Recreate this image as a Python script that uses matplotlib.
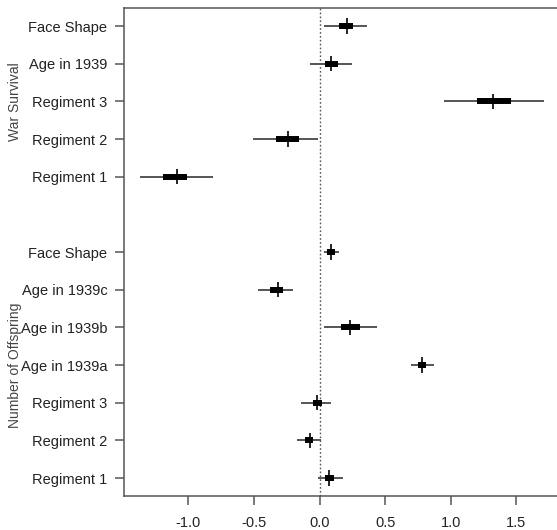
import matplotlib
matplotlib.use("Agg")
import matplotlib.pyplot as plt
import numpy as np

plt.rcParams['font.family'] = ['Liberation Sans', 'DejaVu Sans']

# Number of Offspring (bottom to top)
off_labels = ["Regiment 1", "Regiment 2", "Regiment 3", "Age in 1939a",
              "Age in 1939b", "Age in 1939c", "Face Shape"]
off_med = [0.07, -0.07, -0.02, 0.78, 0.23, -0.32, 0.09]
off_lo95 = [-0.01, -0.17, -0.14, 0.70, 0.03, -0.47, 0.03]
off_hi95 = [0.18, 0.01, 0.09, 0.87, 0.44, -0.20, 0.15]
off_lo50 = [0.04, -0.11, -0.05, 0.75, 0.16, -0.38, 0.06]
off_hi50 = [0.11, -0.05, 0.02, 0.81, 0.31, -0.28, 0.12]

# War Survival (bottom to top)
war_labels = ["Regiment 1", "Regiment 2", "Regiment 3", "Age in 1939", "Face Shape"]
war_med = [-1.09, -0.24, 1.32, 0.09, 0.21]
war_lo95 = [-1.37, -0.51, 0.95, -0.07, 0.03]
war_hi95 = [-0.81, -0.01, 1.71, 0.25, 0.36]
war_lo50 = [-1.19, -0.33, 1.20, 0.04, 0.145]
war_hi50 = [-1.01, -0.16, 1.46, 0.14, 0.255]

group_names = ["Number of Offspring", "War Survival"]
xticks = [-1.0, -0.5, 0.0, 0.5, 1.0, 1.5]

labels = off_labels + war_labels
med = np.array(off_med + war_med)
lo95 = np.array(off_lo95 + war_lo95)
hi95 = np.array(off_hi95 + war_hi95)
lo50 = np.array(off_lo50 + war_lo50)
hi50 = np.array(off_hi50 + war_hi50)

# positions: offspring group, one empty slot, then war group
y_off = np.arange(1, len(off_labels) + 1)
y_war = np.arange(len(off_labels) + 2, len(off_labels) + 2 + len(war_labels))
ypos = np.concatenate([y_off, y_war])

fig = plt.figure(figsize=(5.57, 5.30), dpi=100)
ax = fig.add_axes([0.2226, 0.0647, 0.7774, 0.9203])

ax.axvline(0, color="#555555", linestyle=(0, (1.2, 1.6)), linewidth=1.0, zorder=1)
ax.hlines(ypos, lo95, hi95, color="#555555", linewidth=1.4, zorder=2)
ax.hlines(ypos, lo50, hi50, color="black", linewidth=4.3, zorder=3)
ax.vlines(med, ypos - 0.2, ypos + 0.2, color="black", linewidth=1.2, zorder=4)

ax.set_xlim(-1.491, 1.81)
ax.set_ylim(0.53, ypos[-1] + 0.48)
ax.set_yticks(ypos)
ax.set_yticklabels(labels)
ax.set_xticks(xticks)
ax.set_xticklabels([f"{t:.1f}" for t in xticks])

for side in ["left", "bottom", "top"]:
    ax.spines[side].set_color("#555555")
    ax.spines[side].set_linewidth(1.1)
ax.spines["right"].set_visible(False)
ax.tick_params(axis="both", colors="#555555", length=6.5, width=1.1,
               labelsize=10.5, labelcolor="#222222")
ax.tick_params(axis="y", pad=5.5)
ax.tick_params(axis="x", pad=8)

# group labels
fig_h = 530.0
for name, ys in zip(group_names, [y_off, y_war]):
    ymid = ys.mean()
    yfig = ax.transData.transform((0, ymid))[1] / (fig_h)
    fig.text(0.027, yfig, name, rotation=90, ha="center", va="center",
             fontsize=10, color="#444444")

fig.savefig("out.png", dpi=100)
